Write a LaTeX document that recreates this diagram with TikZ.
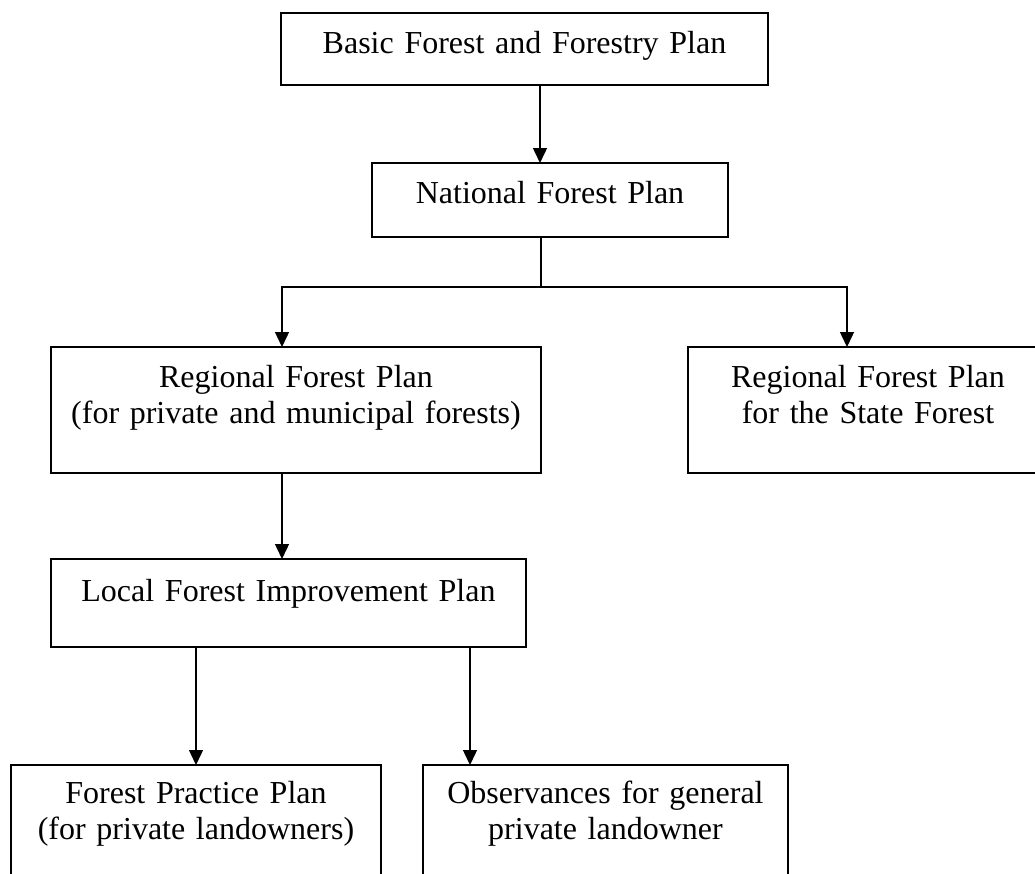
\documentclass[tikz,border=0pt]{standalone}
\usepackage{fontspec}
\setmainfont{Liberation Serif}
\usetikzlibrary{arrows.meta}
\tikzstyle{plan} = [draw=black, line width=1pt, anchor=north west, inner sep=0pt, outer sep=0pt, align=center, font={\fontsize{16}{18}\selectfont}, text height=20pt]
\tikzstyle{wire} = [line width=0.7pt]
\tikzstyle{link} = [wire, -{Triangle[length=7.5pt,width=7pt]}]

\begin{document}
\begin{tikzpicture}[x=0.5pt,y=-0.5pt]
    \useasboundingbox (0,0) rectangle (1035,874);
    \clip (0,0) rectangle (1035,874);
    \node[plan,text width=243.5pt,text depth=16pt](basic) at (281,13){Basic Forest and Forestry Plan};
    \node[plan,text width=178pt,text depth=17pt](national) at (372,163){National Forest Plan};
    \node[plan,text width=245pt,text depth=43pt](regpriv) at (51,347){Regional Forest Plan\\(for private and municipal forests)};
    \node[plan,text width=180pt,text depth=43pt](regstate) at (688,347){Regional Forest Plan\\for the State Forest};
    \node[plan,text width=237.5pt,text height=21pt,text depth=23pt](local) at (51,559){Local Forest Improvement Plan};
    \node[plan,text width=185pt,text height=19pt,text depth=60pt](practice) at (11,765){Forest Practice Plan\\(for private landowners)};
    \node[plan,text width=182.5pt,text height=19pt,text depth=60pt](observ) at (423,765){Observances for general\\private landowner};
    \coordinate (split) at (541,287);
    \draw[link]([xshift=7.75pt]basic.south)--([xshift=7.75pt]basic.south |- national.north);
    \draw[wire](split |- national.south)--(split);
    \draw[link](split)-|([xshift=-7pt]regpriv.north);
    \draw[link](split)-|([xshift=-10.5pt]regstate.north);
    \draw[link]([xshift=-7pt]regpriv.south)--([xshift=-7pt]regpriv.south |- local.north);
    \draw[link](local.south -| practice.north)--(practice.north);
    \draw[link]([xshift=-67.75pt]observ.north |- local.south)--([xshift=-67.75pt]observ.north);
\end{tikzpicture}
\end{document}
